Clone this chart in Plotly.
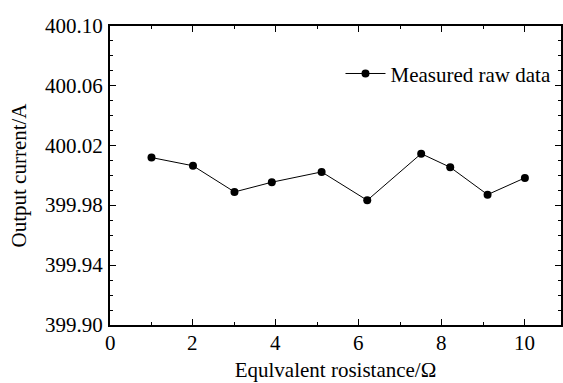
import plotly.graph_objects as go

# Equivalent resistance (ohm) and measured output current (A)
resistance = [1.0, 2.0, 3.0, 3.9, 5.1, 6.2, 7.5, 8.2, 9.1, 10.0]
current = [400.012, 400.0065, 399.989, 399.9955, 400.0024,
           399.9834, 400.0146, 400.0055, 399.9872, 399.9984]

x_ticks = [0, 2, 4, 6, 8, 10]
y_ticks = [399.90, 399.94, 399.98, 400.02, 400.06, 400.10]
y_tick_text = ["399.90", "399.94", "399.98", "400.02", "400.06", "400.10"]

FONT = "Liberation Serif"
TEXT = dict(family=FONT, size=21, color="black")

fig = go.Figure(
    go.Scatter(
        x=resistance,
        y=current,
        mode="lines+markers",
        name="Measured raw data",
        line=dict(color="black", width=1),
        marker=dict(color="black", size=8, symbol="circle"),
    )
)

# Serif tick labels placed at the axis tick values
for v in x_ticks:
    fig.add_annotation(
        x=v, xref="x", y=0, yref="paper",
        text=str(v), showarrow=False, font=TEXT,
        xanchor="center", yanchor="top", yshift=-4,
    )
for v, t in zip(y_ticks, y_tick_text):
    fig.add_annotation(
        x=0, xref="paper", y=v, yref="y",
        text=t, showarrow=False, font=TEXT,
        xanchor="right", yanchor="middle", xshift=-5,
    )

fig.update_layout(
    width=563,
    height=383,
    margin=dict(l=110, r=0, t=26, b=58),
    paper_bgcolor="white",
    plot_bgcolor="white",
    font=TEXT,
    showlegend=True,
    legend=dict(
        x=0.99, y=0.84, xanchor="right", yanchor="middle",
        bgcolor="rgba(0,0,0,0)",
        font=TEXT,
        itemwidth=40,
    ),
    xaxis=dict(
        showline=True, linecolor="black", linewidth=1.5, mirror="allticks",
        ticks="inside", ticklen=6, tickwidth=1, tickcolor="black",
        showgrid=False, zeroline=False, showticklabels=False,
        range=[0, 10.87],
        tickmode="array", tickvals=x_ticks,
        minor=dict(dtick=1, ticks="inside", ticklen=3, tickcolor="black", showgrid=False),
        title=dict(text="Equlvalent rosistance/Ω", font=TEXT, standoff=37),
    ),
    yaxis=dict(
        showline=True, linecolor="black", linewidth=1.5, mirror="allticks",
        ticks="inside", ticklen=6, tickwidth=1, tickcolor="black",
        showgrid=False, zeroline=False, showticklabels=False,
        range=[399.90, 400.10],
        tickmode="array", tickvals=y_ticks,
        minor=dict(dtick=0.01, ticks="inside", ticklen=3, tickcolor="black", showgrid=False),
        title=dict(text="Output current/A", font=TEXT, standoff=76),
    ),
)

fig.write_html("out.html")
